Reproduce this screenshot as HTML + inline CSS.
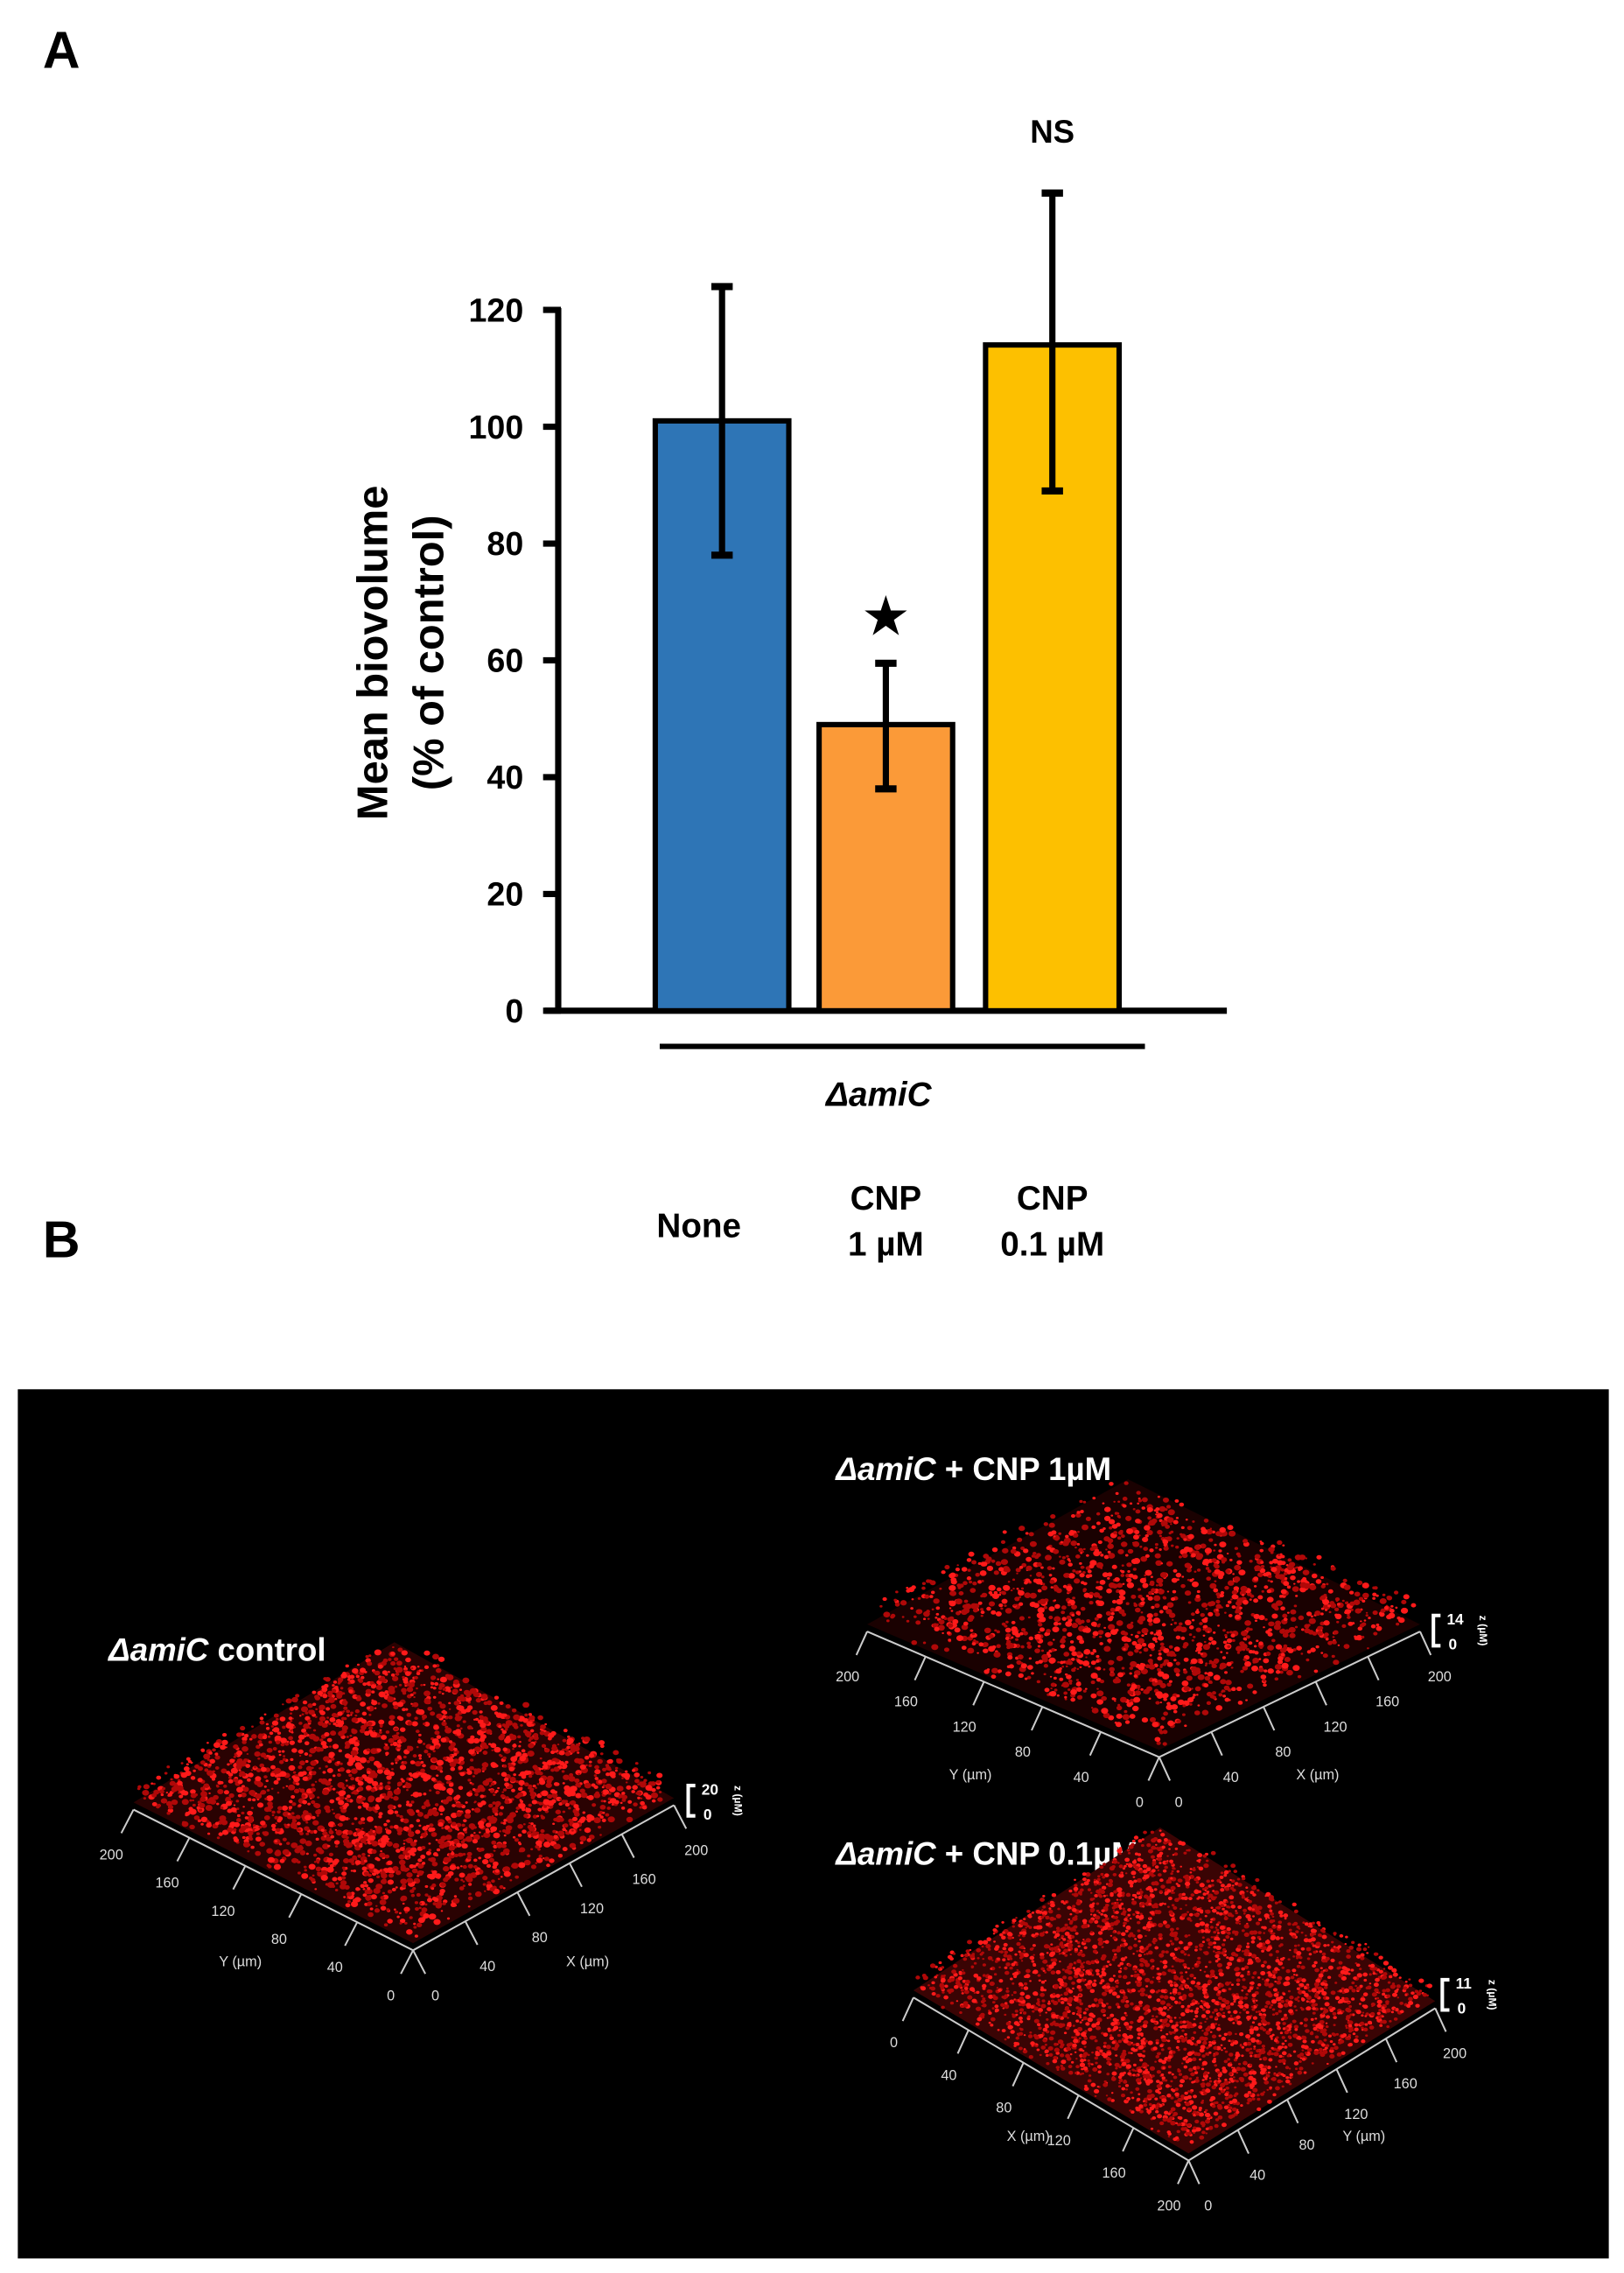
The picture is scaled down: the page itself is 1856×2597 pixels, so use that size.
<!DOCTYPE html>
<html><head><meta charset="utf-8">
<style>
html,body{margin:0;padding:0;background:#fff;}
body{width:1856px;height:2592px;position:relative;overflow:hidden;font-family:"Liberation Sans",Arial,sans-serif;}
</style></head>
<body>
<svg id="fig" width="1856" height="2592" viewBox="0 0 1856 2592" xmlns="http://www.w3.org/2000/svg" font-family="Liberation Sans, Arial, sans-serif">
 <g transform="scale(1.0175)">
  <text x="48" y="76" font-size="58" font-weight="bold">A</text>
  <text x="48" y="1412" font-size="58" font-weight="bold">B</text>
  <g id="chart"></g>
  <rect x="20" y="1560" width="1787" height="976" fill="#000"/>
  <g id="micro"></g>
 </g>
</svg>
<script>
const categories = ["None", "CNP 1 µM", "CNP 0.1 µM"];
const means = [101, 49, 114];
const errLow = [78, 38, 89];
const errHigh = [124, 59.5, 140];
const yTicks = [0, 20, 40, 60, 80, 100, 120];
const barColors = ["#2e75b6", "#fb9a38", "#fdc000"];

const NS = "http://www.w3.org/2000/svg";
function mk(tag, attrs, parent){const e=document.createElementNS(NS,tag);for(const k in attrs)e.setAttribute(k,attrs[k]);parent.appendChild(e);return e;}

const chart = document.getElementById('chart');
const y0px = 1135, yPerUnit = (1135-348)/120;
function yScale(v){return y0px - v*yPerUnit;}
const barLeft = [736, 920, 1107], barW = 150;
function xCenter(i){return barLeft[i] + barW/2;}

let yAxis = mk('line',{x1:627,y1:346,x2:627,y2:1137,stroke:'#000','stroke-width':7},chart);


let xAxis = mk('line',{x1:612,y1:1135,x2:1378,y2:1135,stroke:'#000','stroke-width':7},chart);



yTicks.forEach(v=>{
  const y=yScale(v);
  let t=mk('line',{x1:610,y1:y,x2:630,y2:y,stroke:'#000','stroke-width':7},chart);
  
  
  let l=mk('text',{x:588,y:y+13,'font-size':37,'font-weight':'bold','text-anchor':'end'},chart);
  l.textContent=v;
  
  
});

let yt = mk('text',{transform:'translate(435,733) rotate(-90)','font-size':48,'font-weight':'bold','text-anchor':'middle'},chart);
yt.textContent='Mean biovolume';


let yt2 = mk('text',{transform:'translate(498,733) rotate(-90)','font-size':48,'font-weight':'bold','text-anchor':'middle'},chart);
yt2.textContent='(% of control)';



means.forEach((m,i)=>{
  const top=yScale(m);
  let b=mk('rect',{x:barLeft[i],y:top,width:barW,height:y0px-top,fill:barColors[i],stroke:'#000','stroke-width':6},chart);
  
  
  const cx=xCenter(i);
  let e=mk('line',{x1:cx,y1:yScale(errHigh[i]),x2:cx,y2:yScale(errLow[i]),stroke:'#000','stroke-width':7},chart);
  
  
  [errHigh[i],errLow[i]].forEach(v=>{
    let c=mk('line',{x1:cx-12,y1:yScale(v),x2:cx+12,y2:yScale(v),stroke:'#000','stroke-width':8},chart);
    
    
  });
});

let star=mk('text',{x:xCenter(1),y:yScale(errHigh[1])-32,'font-size':62,'text-anchor':'middle'},chart);
star.textContent='★';


let ns=mk('text',{x:xCenter(2),y:160,'font-size':36,'font-weight':'bold','text-anchor':'middle'},chart);
ns.textContent='NS';



let ul=mk('line',{x1:741,y1:1175,x2:1286,y2:1175,stroke:'#000','stroke-width':6},chart);


let grp=mk('text',{x:987,y:1242,'font-size':38,'font-weight':'bold','font-style':'italic','text-anchor':'middle'},chart);
grp.textContent='ΔamiC';



const catX=[785, 995, 1182];
const catLines=[["None"],["CNP","1 µM"],["CNP","0.1 µM"]];
catLines.forEach((lines,i)=>{
  const startY = lines.length===1 ? 1389 : 1358;
  lines.forEach((s,j)=>{
    let t=mk('text',{x:catX[i],y:startY+j*52,'font-size':38,'font-weight':'bold','text-anchor':'middle'},chart);
    t.textContent=s;
    
    
  });
});

const micro=document.getElementById('micro');
let seed=12345;
function rnd(){seed=(seed*1103515245+12345)%2147483648;return seed/2147483648;}
function surface(name,L,B,R,H,nDots,density,base){
  const g=mk('g',{},micro);
  
  
  const T=[L[0]+R[0]-B[0],L[1]+R[1]-B[1]];
  const pts=[[L[0],L[1]-8],[T[0],T[1]-H],[R[0],R[1]-8],[B[0],B[1]-8]];
  mk('polygon',{points:pts.map(p=>p.join(',')).join(' '),fill:base},g);
  for(let k=0;k<nDots;k++){
    const u=rnd(),v=rnd();
    const x=B[0]+u*(L[0]-B[0])+v*(R[0]-B[0]);
    const y=B[1]+u*(L[1]-B[1])+v*(R[1]-B[1]) - 8 - rnd()*H;
    const r=1+rnd()*density;
    const c=rnd()<0.45?'#ff1a1a':'#b00808';
    mk('ellipse',{cx:x,cy:y,rx:r*1.2,ry:r,fill:c},g);
  }
  mk('line',{x1:L[0],y1:L[1],x2:B[0],y2:B[1],stroke:'#ccc','stroke-width':2},g);
  mk('line',{x1:B[0],y1:B[1],x2:R[0],y2:R[1],stroke:'#ccc','stroke-width':2},g);
}
function edgeTicks(from,to,labels,dx,dy,g){
  labels.forEach((lab,i)=>{
    const f=(i)/(labels.length-1);
    const x=from[0]+(to[0]-from[0])*f, y=from[1]+(to[1]-from[1])*f;
    mk('line',{x1:x,y1:y,x2:x+dx*0.55,y2:y+dy*0.55,stroke:'#ccc','stroke-width':2},g);
    const t=mk('text',{x:x+dx,y:y+dy+8,'font-size':16,fill:'#ddd','text-anchor':'middle'},g);
    t.textContent=lab;
  });
}
function labelAt(x,y,txt,name,size){
  const t=mk('text',{x:x,y:y,'font-size':size||16,fill:'#ddd','text-anchor':'middle'},micro);
  t.textContent=txt;
  
  
}
function title(x,y,italic,rest,name){
  const t=mk('text',{x:x,y:y,'font-size':36,'font-weight':'bold',fill:'#fff'},micro);
  const a=mk('tspan',{'font-style':'italic'},t);a.textContent=italic;
  const b=mk('tspan',{},t);b.textContent=rest;
  
  
}
function zbar(x,y,top,name){
  const g=mk('g',{},micro);
  
  
  mk('path',{d:`M${x+8},${y} L${x},${y} L${x},${y+34} L${x+8},${y+34}`,fill:'none',stroke:'#fff','stroke-width':4},g);
  let t=mk('text',{x:x+15,y:y+10,'font-size':17,'font-weight':'bold',fill:'#fff'},g);t.textContent=top;
  let t2=mk('text',{x:x+17,y:y+38,'font-size':17,'font-weight':'bold',fill:'#fff'},g);t2.textContent='0';
  let t3=mk('text',{transform:`translate(${x+52},${y+17}) rotate(90)`,'font-size':12,'font-weight':'bold',fill:'#fff','text-anchor':'middle'},g);t3.textContent='z (µM)';
}

title(122,1865,'ΔamiC',' control','control-title');
surface('control-surface',[150,2032],[464,2190],[757,2027],25,2600,2.4,'#2a0202');
{const g=micro.lastChild;
 edgeTicks([464,2190],[150,2032],['0','40','80','120','160','200'],-25,48,g);
 edgeTicks([464,2190],[757,2027],['0','40','80','120','160','200'],25,48,g);}
labelAt(270,2208,'Y (µm)','control-y-axis-label');
labelAt(660,2208,'X (µm)','control-x-axis-label');
zbar(773,2005,'20','control-z-scale');

title(939,1662,'ΔamiC',' + CNP 1µM','cnp1-title');
surface('cnp1-surface',[974,1832],[1302,1973],[1595,1832],30,1700,2.4,'#1a0101');
{const g=micro.lastChild;
 edgeTicks([1302,1973],[974,1832],['0','40','80','120','160','200'],-22,48,g);
 edgeTicks([1302,1973],[1595,1832],['0','40','80','120','160','200'],22,48,g);}
labelAt(1090,1998,'Y (µm)','cnp1-y-axis-label');
labelAt(1480,1998,'X (µm)','cnp1-x-axis-label');
zbar(1610,1814,'14','cnp1-z-scale');

title(939,2094,'ΔamiC',' + CNP 0.1µM','cnp01-title');
surface('cnp01-surface',[1026,2243],[1335,2426],[1612,2255],20,3400,1.6,'#3a0404');
{const g=micro.lastChild;
 edgeTicks([1026,2243],[1335,2426],['0','40','80','120','160','200'],-22,48,g);
 edgeTicks([1335,2426],[1612,2255],['0','40','80','120','160','200'],22,48,g);}
labelAt(1155,2404,'X (µm)','cnp01-x-axis-label');
labelAt(1532,2404,'Y (µm)','cnp01-y-axis-label');
zbar(1620,2223,'11','cnp01-z-scale');
</script>
</body></html>
